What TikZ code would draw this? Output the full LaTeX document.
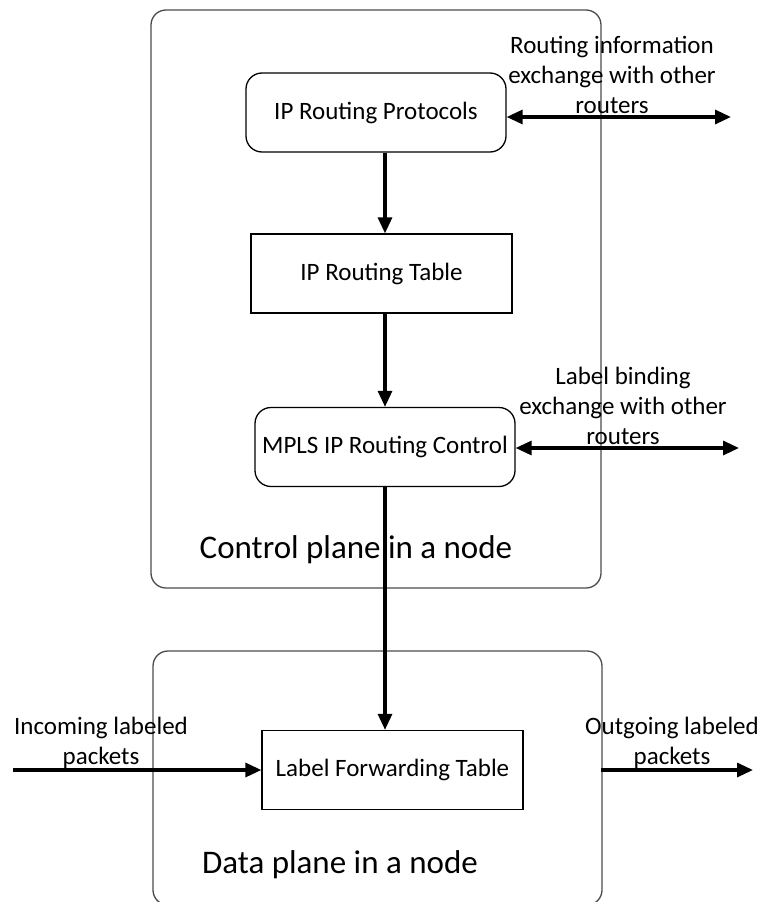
\documentclass[tikz,border=0pt]{standalone}
\usepackage{fontspec}
\setmainfont{Carlito}
\usetikzlibrary{arrows.meta,calc}
\begin{document}
\begin{tikzpicture}[x=1pt,y=-1pt,
  plane/.style={draw=black!70,line width=1.3pt,rounded corners=15pt},
  rbox/.style={draw=black,line width=1.3pt,rounded corners=16pt,minimum width=260pt,minimum height=79pt,inner sep=0pt,font=\fontsize{25}{29}\selectfont},
  sbox/.style={draw=black,line width=1.3pt,minimum width=261pt,minimum height=79pt,inner sep=0pt,font=\fontsize{25}{29}\selectfont},
  lbl/.style={align=center,inner sep=0pt,font=\fontsize{25}{30}\selectfont},
  big/.style={inner sep=0pt,font=\fontsize{33}{38}\selectfont},
  flow/.style={line width=3.2pt,-{Triangle[length=16pt,width=14pt]}},
  both/.style={line width=3.2pt,{Triangle[length=16pt,width=14pt]}-{Triangle[length=16pt,width=14pt]}}]
\useasboundingbox (0,0) rectangle (761,902);
% planes
\draw[plane] (151,10) rectangle (601,588);
\draw[plane] (153,651) rectangle (602,905);
% nodes
\node[rbox] (ipp) at (376,112.5) {IP Routing Protocols};
\node[sbox] (ipt) at (381.5,273.5) {IP Routing Table};
\node[rbox] (mpls) at (385,447) {MPLS IP Routing Control};
\node[sbox] (lft) at (392.5,770) {Label Forwarding Table};
% plane titles
\node[big] (ctitle) at (356,550) {Control plane in a node};
\node[big] (dtitle) at (340,865) {Data plane in a node};
% side labels
\node[lbl] (rinfo) at (612,75) {Routing information\\exchange with other\\routers};
\node[lbl] (lbind) at (623,406) {Label binding\\exchange with other\\routers};
\node[lbl] (inc) at (101,743) {Incoming labeled\\packets};
\node[lbl] (outg) at (672,743) {Outgoing labeled\\packets};
% coordinates
\coordinate (rend) at (731,117);
\coordinate (lend) at (739,448);
\coordinate (instart) at (13,770);
\coordinate (outstart) at (601,770);
\coordinate (outend) at (753,770);
\coordinate (axis) at (385,0);
% connectors
\draw[flow] (ipp.south -| axis) -- (ipt.north -| axis);
\draw[flow] (ipt.south -| axis) -- (mpls.north -| axis);
\draw[flow] (mpls.south -| axis) -- (lft.north -| axis);
\draw[both] (ipp.east |- rend) -- (rend);
\draw[both] (mpls.east |- lend) -- (lend);
\draw[flow] (instart) -- (lft.west |- instart);
\draw[flow] (outstart) -- (outend);
\end{tikzpicture}
\end{document}
